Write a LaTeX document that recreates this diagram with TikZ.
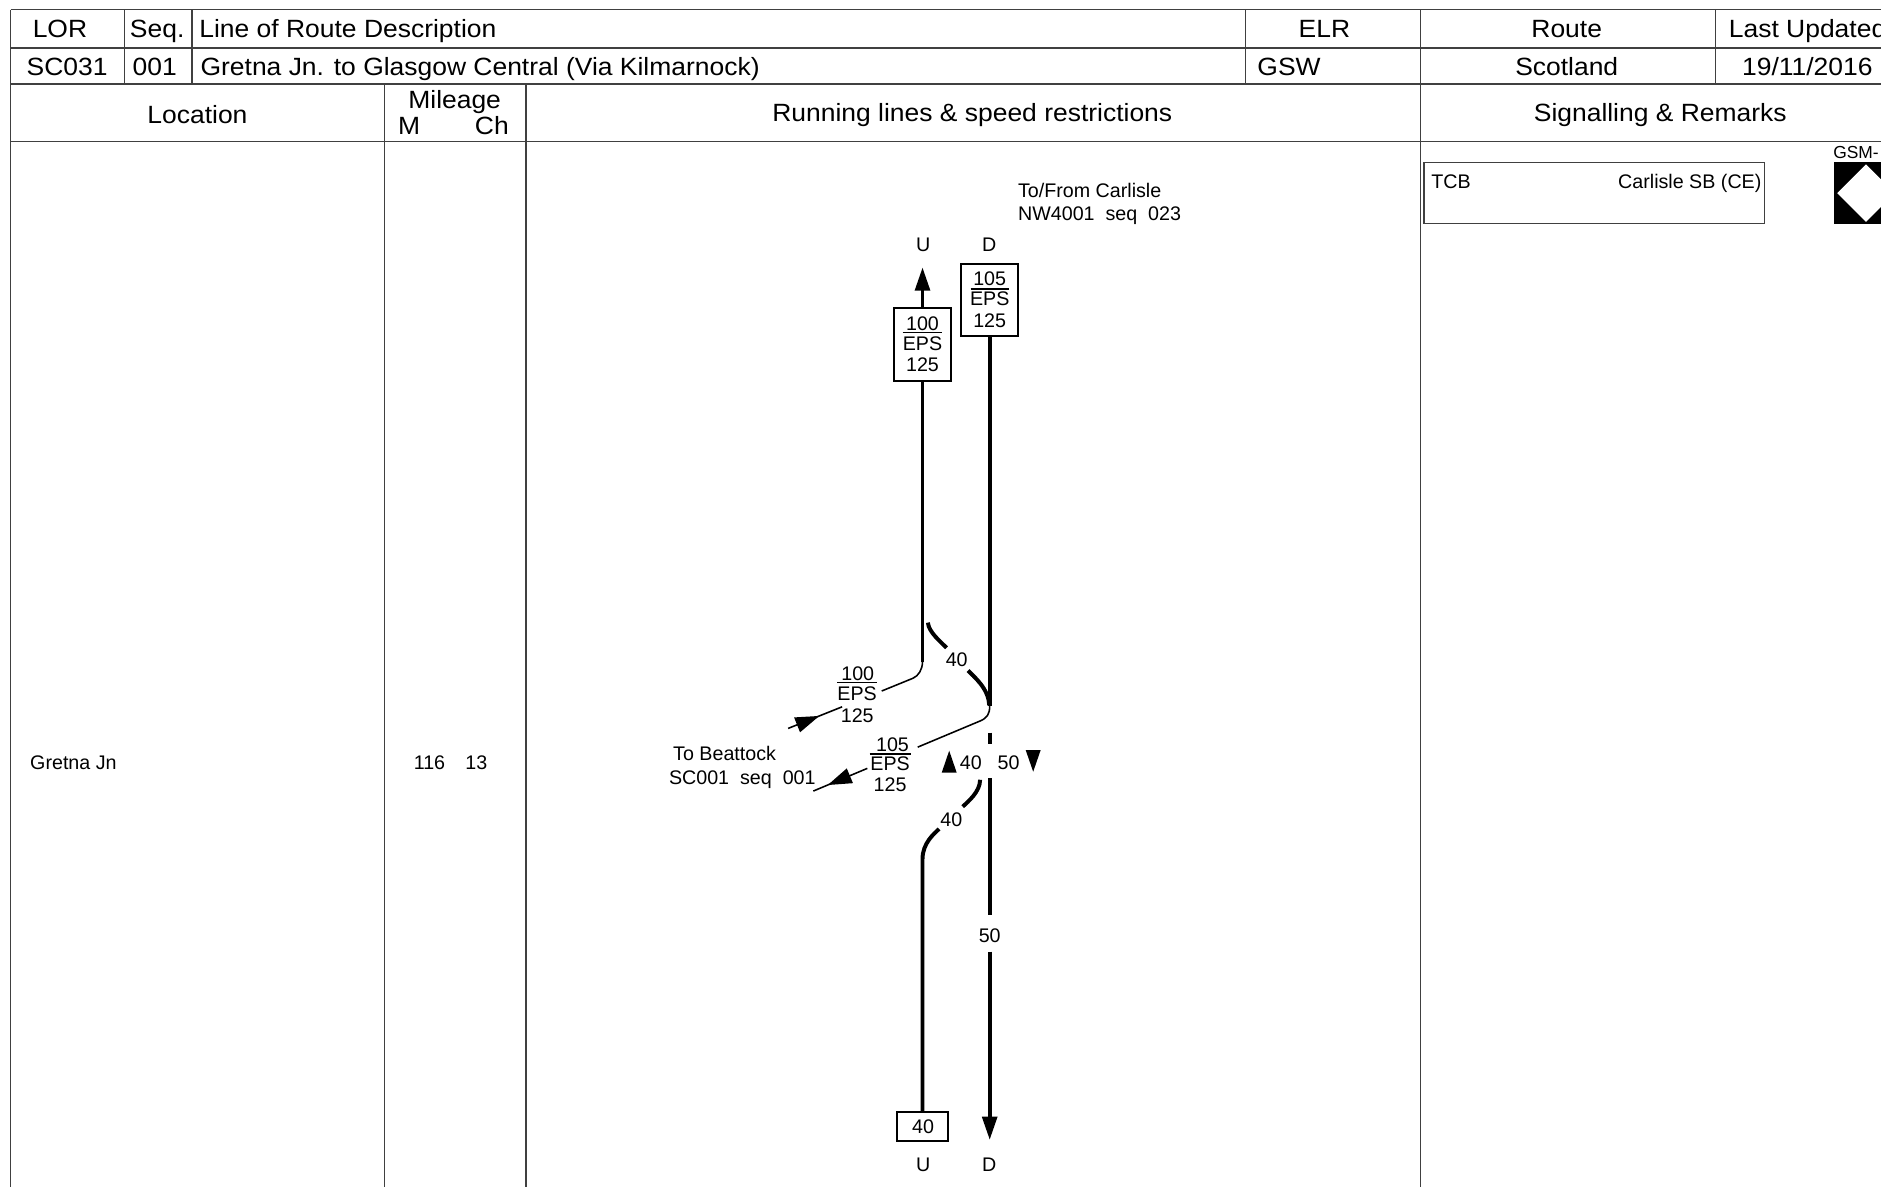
\documentclass[tikz,border=0pt]{standalone}
\usepackage{fontspec}
\setmainfont{Liberation Sans}
\newfontfamily\hdrfont[FakeStretch=1.06]{Liberation Sans}
\usetikzlibrary{arrows.meta}
\definecolor{tbl}{HTML}{404040}
\begin{document}
\begin{tikzpicture}[x=1pt,y=-1pt,
  hd/.style={font=\hdrfont\fontsize{20.8}{24}\selectfont, inner sep=0pt, text height=14.9pt, text depth=0pt},
  sm/.style={font=\fontsize{16.4}{19}\selectfont, inner sep=0pt, text height=11.7pt, text depth=0pt},
  tinytxt/.style={font=\fontsize{14.5}{17}\selectfont, inner sep=0pt, text height=10.4pt, text depth=0pt},
  tblline/.style={draw=tbl, line width=1.1pt},
  track/.style={line width=3.3pt},
  branch/.style={line width=1.3pt},
  lblbar/.style={line width=1.3pt},
  sbox/.style={draw, line width=1.5pt, inner sep=0pt},
  bigtip/.style={-{Triangle[length=19.5pt,width=12.2pt]}},
  smalltip/.style={-{Triangle[length=20pt,width=13pt]}},
]
\useasboundingbox (0,0) rectangle (1568,989);
\clip (0,0) rectangle (1568,989);
\fill[white] (0,0) rectangle (1568,989);

% ---------- table grid ----------
\draw[tblline] (9,8) -- (1572,8);
\draw[tblline] (9,40) -- (1572,40);
\draw[tblline] (9,70) -- (1572,70);
\draw[tblline] (9,118) -- (1572,118);
\draw[tblline] (9,8) -- (9,992);
\draw[tblline] (104,8) -- (104,70);
\draw[tblline] (160,8) -- (160,70);
\draw[tblline] (1038,8) -- (1038,70);
\draw[tblline] (1184,8) -- (1184,992);
\draw[tblline] (1430,8) -- (1430,70);
\draw[tblline] (320.6,70) -- (320.6,992);
\draw[tblline] (438.5,70) -- (438.5,992);

% ---------- header texts ----------
\node[hd] (lor) at (50,24) {LOR};
\node[hd] (seq) at (131,24) {Seq.};
\node[hd, anchor=west] (lord) at (166,24) {Line of Route Description};
\node[hd] (elr) at (1104,24) {ELR};
\node[hd] (route) at (1306,24) {Route};
\node[hd, anchor=west] (lastup) at (1441,24) {Last Updated};
\node[hd] (lorv) at (56,55.2) {SC031};
\node[hd] (seqv) at (129,55.2) {001};
\node[hd, anchor=west] (lordv) at (167,55.2) {Gretna Jn. to Glasgow Central (Via Kilmarnock)};
\node[hd, anchor=west] (elrv) at (1048,55.2) {GSW};
\node[hd] (routev) at (1306,55.2) {Scotland};
\node[hd, anchor=west] (lastupv) at (1452,55.2) {19/11/2016};
\node[hd] (loc) at (164.6,95.3) {Location};
\node[hd] (mil) at (379,83) {Mileage};
\node[hd] (milm) at (341,105) {M};
\node[hd] (milch) at (410,105) {Ch};
\node[hd] (run) at (810.5,93.5) {Running lines \& speed restrictions};
\node[hd] (sig) at (1384,94) {Signalling \& Remarks};

% ---------- location / mileage ----------
\node[sm, anchor=west] (loc1) at (25,636) {Gretna Jn};
\node[sm] (m1) at (358,636) {116};
\node[sm] (ch1) at (397,636) {13};

% ---------- signalling ----------
\node[draw=tbl, line width=1pt, minimum width=284pt, minimum height=50.6pt, inner sep=0pt] (tcbbox) at (1329,160.9) {};
\node[sm, anchor=west] (tcb) at (1193,151.4) {TCB};
\node[sm, anchor=east] (cesb) at (1468.5,151.4) {Carlisle SB (CE)};
\fill (1529,135) rectangle (1581,187);
\fill[white] (1531.5,161) -- (1555.5,137) -- (1579.5,161) -- (1555.5,185) -- cycle;
\node[tinytxt, anchor=west] (gsm) at (1528,127) {GSM-};

% ---------- running lines texts ----------
\node[sm, anchor=west] (carl1) at (848.5,159) {To/From Carlisle};
\node[sm, anchor=west] (carl2) at (848.5,178) {NW4001~~seq~~023};
\node[sm] (uT) at (769.5,203.5) {U};
\node[sm] (dT) at (824.7,204) {D};
\node[sm] (uB) at (769.5,971) {U};
\node[sm] (dB) at (824.7,971) {D};
\node[sm, anchor=west] (beat1) at (561,628) {To Beattock};
\node[sm, anchor=west] (beat2) at (557.5,648) {SC001~~seq~~001};

% ---------- boxes ----------
\node[sbox, minimum width=48pt, minimum height=60.6pt] (ubox) at (769,287.3) {};
\node[sm] (u100) at (769,270) {100};
\draw[lblbar] (752.5,277) -- (785.5,277);
\node[sm] (ueps) at (769,286) {EPS};
\node[sm] (u125) at (769,303.5) {125};

\node[sbox, minimum width=47.3pt, minimum height=60pt] (dbox) at (825,250) {};
\node[sm] (d105) at (825,232) {105};
\draw[lblbar] (809,241) -- (841,241);
\node[sm] (deps) at (825,248.7) {EPS};
\node[sm] (d125) at (825,267.3) {125};

\node[sbox, minimum width=43pt, minimum height=23.7pt] (lbox) at (769,939) {};
\node[sm] (l40) at (769.5,939.4) {40};

% ---------- up line ----------
\coordinate (uTip) at (769,222.8);
\coordinate (uJ) at (769,551.6);
\draw[track, bigtip] (ubox.north) -- (uTip);
\draw[track] (ubox.south) -- (uJ);
\draw[branch] (uJ) .. controls (769,558) and (765.6,563.5) .. (761,565.4) -- (735,576);
\draw[branch] (702,589.2) -- (657,607.2);
\draw[branch, smalltip] (668,602.8) -- (683,596.8);
\node[sm] (b100) at (715,561) {100};
\draw[lblbar] (698,569) -- (731.3,569);
\node[sm] (b100e) at (714.5,578) {EPS};
\node[sm] (b100c) at (714.6,596) {125};

% ---------- top crossover ----------
\draw[track] (773.5,519) .. controls (774,527) and (784.9,535.6) .. (789,540);
\draw[track] (807,559) .. controls (811.1,563.4) and (824.5,574) .. (824.5,588);
\node[sm] (x40a) at (797.5,550) {40};

% ---------- down line ----------
\coordinate (dJ) at (825,588.6);
\coordinate (dTip) at (825,950.3);
\draw[track] (dbox.south) -- (dJ);
\draw[branch] (dJ) .. controls (825,595) and (823,598.5) .. (817,601) -- (765,622.8);
\draw[branch] (723,640.5) -- (678,659.4);
\draw[branch, smalltip] (706,647.7) -- (690,654.4);
\node[sm] (b105) at (744,621) {105};
\draw[lblbar] (725,628.5) -- (759,628.5);
\node[sm] (b105e) at (742,636.7) {EPS};
\node[sm] (b105c) at (742,654) {125};

\draw[track] (825,610.7) -- (825,620);
\draw[track] (825,648.7) -- (825,762.7);
\draw[track, bigtip] (825,793.3) -- (dTip);
\node[sm] (d50) at (825,779.4) {50};

\fill (785,644.1) -- (797.5,644.1) -- (791.25,625.8) -- cycle;
\node[sm] (j40) at (809.3,635.5) {40};
\node[sm] (j50) at (840.7,635.5) {50};
\fill (855,625.2) -- (867.5,625.2) -- (861.25,643.3) -- cycle;

% ---------- bottom crossover ----------
\draw[track] (817,650) .. controls (817,660) and (806.9,668.3) .. (802.5,672.4);
\draw[track] (782.8,691) .. controls (778.4,695.1) and (769,703) .. (769,716) -- (lbox.north);
\node[sm] (x40b) at (793,682.7) {40};
\end{tikzpicture}
\end{document}
